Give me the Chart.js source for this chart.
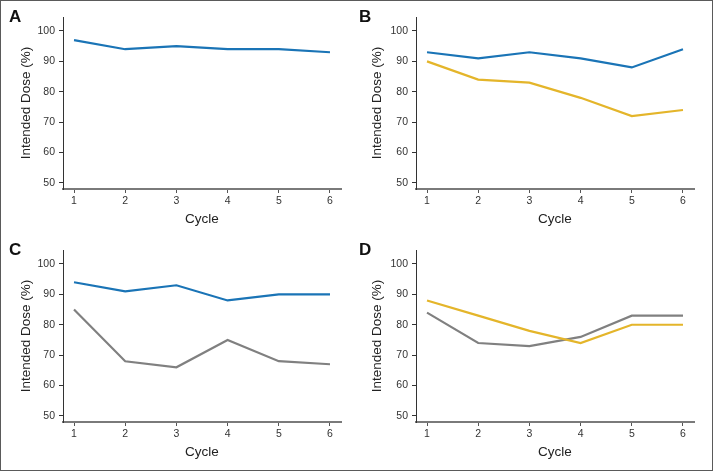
<!DOCTYPE html>
<html>
<head>
<meta charset="utf-8">
<script src="https://cdn.jsdelivr.net/npm/chart.js@4/dist/chart.umd.min.js"></script>
<style>
  html, body { margin: 0; padding: 0; background: #fff; }
  #frame { position: absolute; left: 0; top: 0; width: 713px; height: 471px; box-sizing: border-box; border: 1px solid #5a5a5a; background: #fff; }
  .panel { position: absolute; width: 353px; height: 233px; }
</style>
</head>
<body>
<div id="frame"></div>
<div class="panel" style="left:0;top:0"><canvas id="cA" width="353" height="233"></canvas></div>
<div class="panel" style="left:353px;top:0"><canvas id="cB" width="353" height="233"></canvas></div>
<div class="panel" style="left:0;top:233px"><canvas id="cC" width="353" height="233"></canvas></div>
<div class="panel" style="left:353px;top:233px"><canvas id="cD" width="353" height="233"></canvas></div>
<script>
// ---- data ----
const cycles = [1, 2, 3, 4, 5, 6];
const yTickValues = [50, 60, 70, 80, 90, 100];
const panelLabels = ['A', 'B', 'C', 'D'];
const xTitle = 'Cycle';
const yTitle = 'Intended Dose (%)';

const panelA_blue   = [97, 94, 95, 94, 94, 93];
const panelB_blue   = [93, 91, 93, 91, 88, 94];
const panelB_yellow = [90, 84, 83, 78, 72, 74];
const panelC_blue   = [94, 91, 93, 88, 90, 90];
const panelC_gray   = [85, 68, 66, 75, 68, 67];
const panelD_yellow = [88, 83, 78, 74, 80, 80];
const panelD_gray   = [84, 74, 73, 76, 83, 83];

// ---- styles ----
const BLUE = '#1a74b6';
const YELLOW = '#e4b52a';
const GRAY = '#808080';
const FONT = "'Liberation Sans', Arial, sans-serif";

function ds(values, color) {
  return {
    data: cycles.map((c, i) => ({ x: c, y: values[i] })),
    borderColor: color,
    borderWidth: 2.2,
    pointRadius: 0,
    tension: 0,
    fill: false
  };
}

const labelPlugin = {
  id: 'panelLabel',
  afterDraw(chart, args, opts) {
    const ctx = chart.ctx;
    ctx.save();
    ctx.font = "bold 17px 'Liberation Sans', Arial, sans-serif";
    ctx.fillStyle = '#111';
    ctx.textBaseline = 'middle';
    ctx.textAlign = 'left';
    ctx.fillText(opts.text, opts.x, opts.y);
    ctx.restore();
  }
};

function makeChart(id, label, datasets, labelX, yTitleCenter) {
  new Chart(document.getElementById(id), {
    type: 'line',
    data: { datasets },
    plugins: [labelPlugin],
    options: {
      responsive: false,
      animation: false,
      layout: { padding: { left: 0, right: 12, top: 17, bottom: 0 } },
      plugins: {
        legend: { display: false },
        tooltip: { enabled: false },
        panelLabel: { text: label, x: labelX, y: 17 }
      },
      scales: {
        x: {
          type: 'linear',
          min: 0.785,
          max: 6.215,
          afterBuildTicks: s => { s.ticks = cycles.map(v => ({ value: v })); },
          afterFit: s => { s.height = 44; },
          grid: { drawOnChartArea: false, drawTicks: true, tickLength: 4, color: '#555', lineWidth: 1 },
          border: { display: true, color: '#7a7a7a', width: 2 },
          ticks: { color: '#333', font: { family: FONT, size: 10.5 }, padding: 2, maxRotation: 0 },
          title: { display: true, text: xTitle, color: '#222', font: { family: FONT, size: 13.5 }, padding: { top: 0, bottom: 6 } }
        },
        y: {
          min: 48,
          max: 104.6,
          afterBuildTicks: s => { s.ticks = yTickValues.map(v => ({ value: v })); },
          afterFit: s => { s.width = 63; },
          grid: { drawOnChartArea: false, drawTicks: true, tickLength: 4, color: '#333', lineWidth: 1 },
          border: { display: true, color: '#333', width: 1 },
          ticks: { color: '#333', font: { family: FONT, size: 10.5 }, padding: 4 },
          title: { display: true, text: yTitle, color: '#222', font: { family: FONT, size: 13.5 }, padding: { top: yTitleCenter - 8.1, bottom: 0 } }
        }
      }
    }
  });
}

makeChart('cA', panelLabels[0], [ds(panelA_blue, BLUE)], 9, 26);
makeChart('cB', panelLabels[1], [ds(panelB_blue, BLUE), ds(panelB_yellow, YELLOW)], 6, 24);
makeChart('cC', panelLabels[2], [ds(panelC_blue, BLUE), ds(panelC_gray, GRAY)], 9, 26);
makeChart('cD', panelLabels[3], [ds(panelD_yellow, YELLOW), ds(panelD_gray, GRAY)], 6, 24);
</script>
</body>
</html>
